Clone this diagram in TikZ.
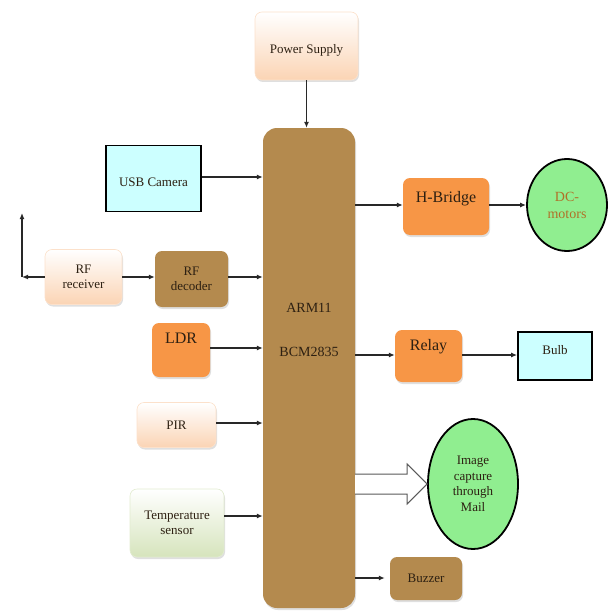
\documentclass[tikz,border=0pt]{standalone}
\usepackage{fontspec}
\setmainfont{Liberation Serif}
\usetikzlibrary{arrows.meta,shapes.geometric,shadows}
\definecolor{peach}{RGB}{251,212,180}
\definecolor{lgreen}{RGB}{214,228,188}
\definecolor{orng}{RGB}{247,150,70}
\definecolor{brwn}{RGB}{180,138,78}
\definecolor{cyanbox}{RGB}{204,255,255}
\definecolor{grn}{RGB}{144,238,144}
\definecolor{dctext}{RGB}{176,112,40}
\definecolor{darktext}{RGB}{45,32,18}
\definecolor{linec}{RGB}{40,40,40}
\tikzset{
  box/.style={rounded corners=7pt, inner sep=2pt, align=center, font=\fontsize{13}{14}\selectfont, text=darktext,
     drop shadow={opacity=0.25, shadow xshift=1pt, shadow yshift=-2pt}},
  peachbox/.style={box, top color=white, bottom color=peach, draw=peach!70!white, line width=0.6pt},
  greenbox/.style={box, top color=white, bottom color=lgreen, draw=lgreen!70!white, line width=0.6pt},
  orangebox/.style={box, fill=orng, font=\fontsize{16}{18}\selectfont},
  brownbox/.style={box, fill=brwn},
  cyanrect/.style={draw=black, line width=1.8pt, fill=cyanbox, align=center, font=\fontsize{13}{14}\selectfont, text=darktext},
  greenell/.style={ellipse, draw=black, line width=1.8pt, fill=grn, align=center, inner sep=0pt},
  conn/.style={draw=linec, line width=1.3pt, -{Latex[length=6pt,width=5pt]}},
}
\begin{document}
\begin{tikzpicture}[x=1pt,y=-1pt]
\useasboundingbox (0,0) rectangle (609,615);
% main processor
\node[box, fill=brwn, rounded corners=14pt, minimum width=92pt, minimum height=480pt] (arm) at (309,368) {};
\node[text=darktext, font=\fontsize{14}{16}\selectfont] (armA) at (309,308) {ARM11};
\node[text=darktext, font=\fontsize{14}{16}\selectfont] (armB) at (309,352) {BCM2835};
% inputs
\node[peachbox, minimum width=103pt, minimum height=68pt, text height=15pt, text depth=0pt] (ps) at (306.5,46) {Power Supply};
\node[cyanrect, minimum width=95pt, minimum height=66pt, text height=15pt, text depth=0pt] (usb) at (153.5,178.5) {USB Camera};
\node[peachbox, minimum width=77pt, minimum height=55pt, font=\fontsize{13}{15}\selectfont] (rfr) at (83.5,277) {RF\\receiver};
\node[brownbox, minimum width=73pt, minimum height=56pt, font=\fontsize{13}{15}\selectfont] (rfd) at (191.5,279) {RF\\decoder};
\node[orangebox, minimum width=58pt, minimum height=54pt, text height=12pt, text depth=26pt] (ldr) at (181,350) {LDR};
\node[peachbox, minimum width=79pt, minimum height=45pt] (pir) at (176.5,425) {PIR};
\node[greenbox, minimum width=94pt, minimum height=68pt, font=\fontsize{13}{15}\selectfont] (temp) at (177,523) {Temperature\\sensor};
% outputs
\node[orangebox, minimum width=86pt, minimum height=57pt, text height=12pt, text depth=20pt] (hb) at (446,206.5) {H-Bridge};
\node[greenell, minimum width=80pt, minimum height=92pt, text=dctext, font=\fontsize{14}{17}\selectfont] (dc) at (567,205) {DC-\\motors};
\node[orangebox, minimum width=67pt, minimum height=52pt, text height=12pt, text depth=24pt] (relay) at (428.5,356) {Relay};
\node[cyanrect, minimum width=74pt, minimum height=48pt, text height=10pt, text depth=14pt] (bulb) at (555,356) {Bulb};
\node[greenell, minimum width=90pt, minimum height=130pt, text=darktext, font=\fontsize{13}{15.5}\selectfont] (img) at (473,484) {Image\\capture\\through\\Mail};
\node[brownbox, minimum width=72pt, minimum height=43pt] (buzz) at (426,578.5) {Buzzer};
% connectors into ARM
\draw[conn] (ps.south) -- (ps.south |- arm.north);
\draw[conn] ([yshift=1.5pt]usb.east) -- ([yshift=1.5pt]usb.east -| arm.west);
\draw[conn] ([yshift=2pt]rfd.east) -- ([yshift=2pt]rfd.east -| arm.west);
\draw[conn] (rfr.east) -- (rfr.east -| rfd.west);
\draw[conn] ([yshift=2pt]ldr.east) -- ([yshift=2pt]ldr.east -| arm.west);
\draw[conn] ([yshift=2pt]pir.east) -- ([yshift=2pt]pir.east -| arm.west);
\draw[conn] ([yshift=7pt]temp.east) -- ([yshift=7pt]temp.east -| arm.west);
% antenna
\coordinate (ant) at (22,277);
\coordinate (anttop) at (22,213);
\draw[conn] (rfr.west) -- (ant);
\draw[conn] (ant) -- (anttop);
% connectors out of ARM
\draw[conn] ([yshift=1.5pt]hb.west -| arm.east) -- ([yshift=1.5pt]hb.west);
\draw[conn] ([yshift=1.5pt]hb.east) -- ([yshift=1.5pt]hb.east -| dc.west);
\draw[conn] ([yshift=1pt]relay.west -| arm.east) -- ([yshift=1pt]relay.west);
\draw[conn] ([yshift=1pt]relay.east) -- ([yshift=1pt]relay.east -| bulb.west);
\draw[conn] ([yshift=0.5pt]buzz.west -| arm.east) -- ([xshift=-5pt,yshift=0.5pt]buzz.west);
% hollow arrow to image capture
\coordinate (ha1) at ([yshift=-10pt]img.west -| arm.east);
\coordinate (ha2) at ([yshift=10pt]img.west -| arm.east);
\draw[draw=gray!70!black, line width=1pt, fill=white]
  (ha1) -- ([xshift=-20pt,yshift=-10pt]img.west) -- ([xshift=-20pt,yshift=-20pt]img.west)
  -- (img.west) -- ([xshift=-20pt,yshift=20pt]img.west) -- ([xshift=-20pt,yshift=10pt]img.west) -- (ha2);
\end{tikzpicture}
\end{document}
